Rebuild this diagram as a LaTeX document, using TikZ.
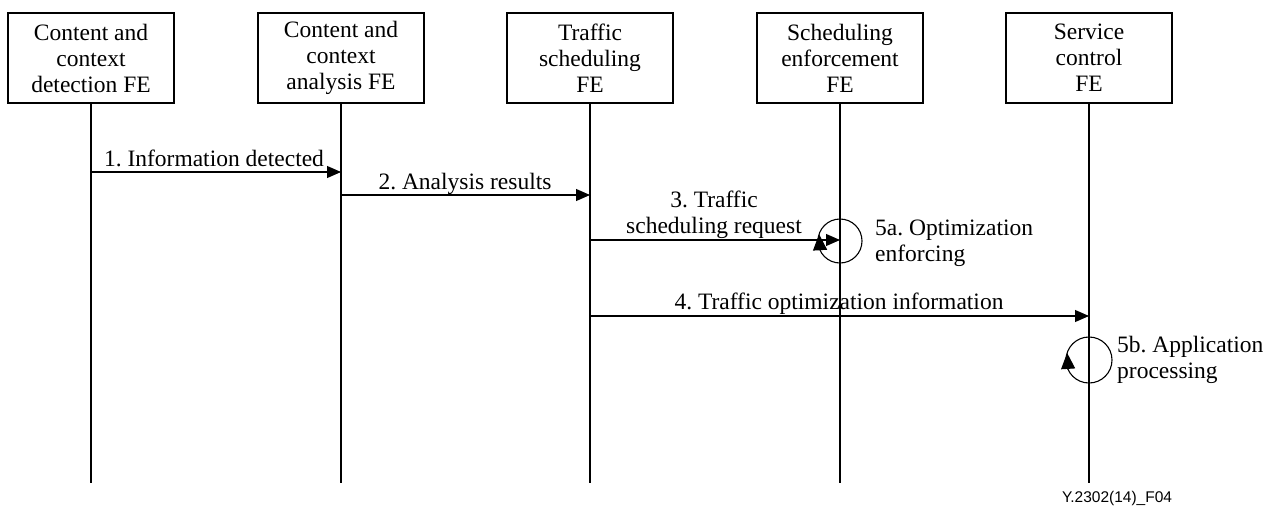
\documentclass[tikz,border=0pt]{standalone}
\usepackage{fontspec}
\setmainfont{Liberation Serif}
\newfontfamily\footfont{Liberation Sans}
\usetikzlibrary{arrows.meta}
\frenchspacing

\tikzset{
  fe/.style={draw, line width=1.1pt, minimum width=166pt, minimum height=90pt,
    align=center, inner sep=0pt, font=\fontsize{23.5}{26}\selectfont},
  life/.style={line width=1.1pt},
  loopline/.style={line width=1.1pt},
  msg/.style={line width=1.1pt, -{Triangle[length=14pt,width=12pt]}},
  looptip/.style={line width=1.1pt, -{Triangle[length=16pt,width=14pt]}},
  lbl/.style={font=\fontsize{23.5}{26}\selectfont, inner sep=0pt, align=center},
  looplbl/.style={font=\fontsize{23.5}{26}\selectfont, inner sep=0pt, align=left, anchor=west},
}

\begin{document}
\begin{tikzpicture}[x=1pt,y=1pt]
\useasboundingbox (0,0) rectangle (1272,-507);

% functional entities
\node[fe] (b1) at (91,-58)   {Content and\\context\\detection FE};
\node[fe] (b2) at (341,-58)  {Content and\\context\\analysis FE};
\node[fe] (b3) at (590,-58)  {Traffic\\scheduling\\FE};
\node[fe] (b4) at (840,-58)  {Scheduling\\enforcement\\FE};
\node[fe] (b5) at (1089,-58) {Service\\control\\FE};

% lifelines
\coordinate (bottom) at (0,-483);
\foreach \i in {1,...,5}
  \draw[life] (b\i.south) -- (b\i |- bottom);

% message levels
\coordinate (y1) at (0,-172);
\coordinate (y2) at (0,-195);
\coordinate (y3) at (0,-240);
\coordinate (y4) at (0,-316);

\draw[msg] (b1 |- y1) -- (b2 |- y1);
\node[lbl, anchor=base] (t1) at (214,-166) {1. Information detected};

\draw[msg] (b2 |- y2) -- (b3 |- y2);
\node[lbl, anchor=base] (t2) at (465,-189) {2. Analysis results};

\draw[msg] (b3 |- y3) -- (b4 |- y3);
\node[lbl, anchor=south] (t3) at (714,-239) {3. Traffic\\scheduling request};

\draw[msg] (b3 |- y4) -- (b5 |- y4);
\node[lbl, anchor=base] (t4) at (839,-309) {4. Traffic optimization information};

% local processing loops: a circle on the lifeline with an upward tip on its left side
\coordinate (c5a) at (840,-241);
\draw[loopline] (c5a) circle[radius=22];
\draw[looptip] ([shift={(205:22)}]c5a) -- ([shift={(162:22)}]c5a);
\node[looplbl] (t5a) at (875,-243) {5a. Optimization\\enforcing};

\coordinate (c5b) at (1089,-360);
\draw[loopline] (c5b) circle[radius=23];
\draw[looptip] ([shift={(205:23)}]c5b) -- ([shift={(162:23)}]c5b);
\node[looplbl] (t5b) at (1117,-360) {5b. Application\\processing};

% figure reference
\node[font=\footfont\fontsize{15.5}{18}\selectfont, inner sep=0pt] (ref) at (1117,-498) {Y.2302(14)\_F04};
\end{tikzpicture}
\end{document}
